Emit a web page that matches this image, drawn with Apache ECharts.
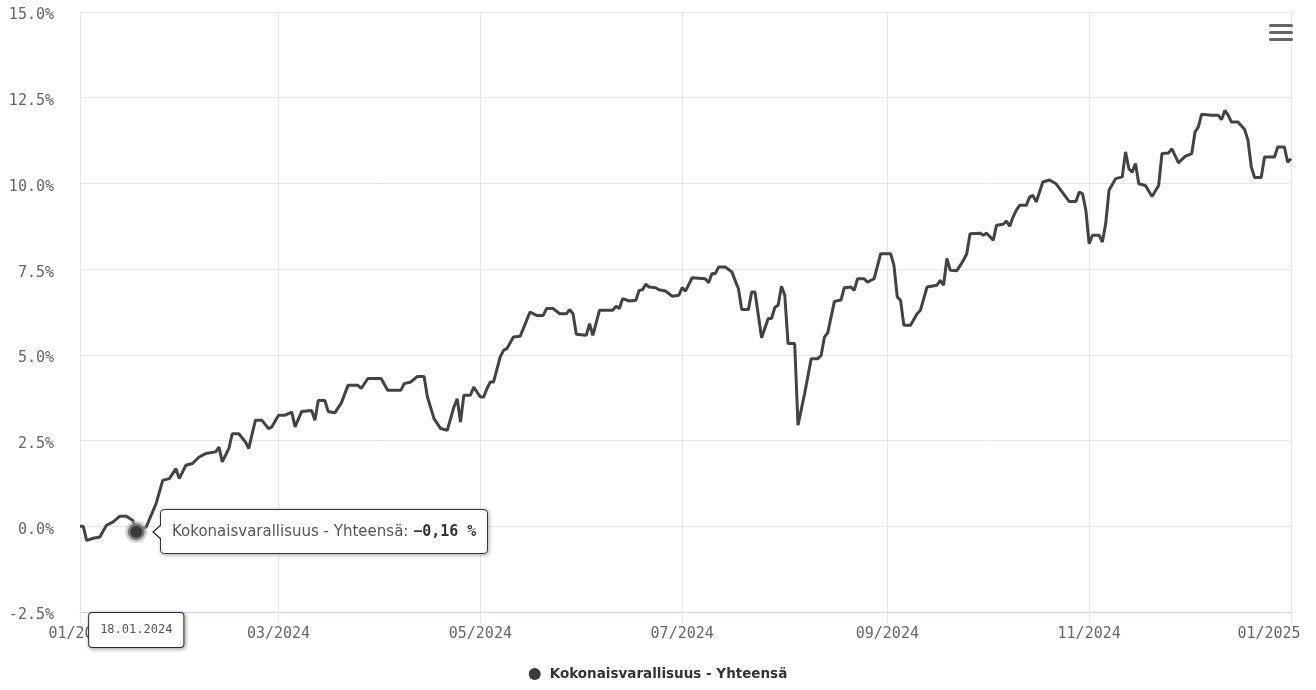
<!DOCTYPE html>
<html>
<head>
<meta charset="utf-8">
<script src="https://cdn.jsdelivr.net/npm/echarts@6/dist/echarts.min.js"></script>
<style>
html,body{margin:0;padding:0;background:#fff;overflow:hidden;}
#chart{width:1316px;height:690px;}
</style>
</head>
<body>
<div id="chart"></div>
<script>
const seriesName = 'Kokonaisvarallisuus - Yhteensä';
const yTicks = [-2.5, 0, 2.5, 5, 7.5, 10, 12.5, 15];
const tooltipDate = '2024-01-18';
const dates = [
 '2024-01-01','2024-01-02','2024-01-03','2024-01-05','2024-01-07','2024-01-09','2024-01-11','2024-01-13','2024-01-15','2024-01-17',
 '2024-01-18','2024-01-21','2024-01-24','2024-01-26','2024-01-28','2024-01-30','2024-01-31','2024-02-02','2024-02-04','2024-02-06',
 '2024-02-08','2024-02-11','2024-02-12','2024-02-13','2024-02-15','2024-02-16','2024-02-18','2024-02-20','2024-02-21','2024-02-23',
 '2024-02-25','2024-02-27','2024-02-28','2024-03-01','2024-03-03','2024-03-05','2024-03-06','2024-03-08','2024-03-11','2024-03-12',
 '2024-03-13','2024-03-15','2024-03-16','2024-03-18','2024-03-20','2024-03-22','2024-03-25','2024-03-26','2024-03-28','2024-04-01',
 '2024-04-03','2024-04-07','2024-04-08','2024-04-10','2024-04-12','2024-04-14','2024-04-15','2024-04-17','2024-04-19','2024-04-21',
 '2024-04-23','2024-04-24','2024-04-25','2024-04-26','2024-04-28','2024-04-29','2024-05-01','2024-05-02','2024-05-03','2024-05-04',
 '2024-05-05','2024-05-07','2024-05-08','2024-05-09','2024-05-11','2024-05-13','2024-05-14','2024-05-16','2024-05-18','2024-05-20',
 '2024-05-21','2024-05-23','2024-05-25','2024-05-27','2024-05-28','2024-05-29','2024-05-30','2024-06-02','2024-06-03','2024-06-04',
 '2024-06-06','2024-06-10','2024-06-11','2024-06-12','2024-06-13','2024-06-15','2024-06-17','2024-06-18','2024-06-19','2024-06-20',
 '2024-06-21','2024-06-23','2024-06-24','2024-06-26','2024-06-28','2024-06-30','2024-07-01','2024-07-02','2024-07-04','2024-07-08',
 '2024-07-09','2024-07-10','2024-07-11','2024-07-12','2024-07-14','2024-07-16','2024-07-18','2024-07-19','2024-07-21','2024-07-22',
 '2024-07-23','2024-07-25','2024-07-27','2024-07-28','2024-07-29','2024-07-30','2024-07-31','2024-08-01','2024-08-02','2024-08-04',
 '2024-08-05','2024-08-07','2024-08-09','2024-08-11','2024-08-12','2024-08-13','2024-08-14','2024-08-16','2024-08-18','2024-08-19',
 '2024-08-21','2024-08-22','2024-08-23','2024-08-25','2024-08-26','2024-08-28','2024-08-30','2024-09-02','2024-09-03','2024-09-04',
 '2024-09-05','2024-09-06','2024-09-08','2024-09-10','2024-09-11','2024-09-13','2024-09-16','2024-09-17','2024-09-18','2024-09-19',
 '2024-09-20','2024-09-22','2024-09-24','2024-09-25','2024-09-26','2024-09-29','2024-09-30','2024-10-01','2024-10-03','2024-10-04',
 '2024-10-06','2024-10-07','2024-10-08','2024-10-09','2024-10-10','2024-10-11','2024-10-13','2024-10-14','2024-10-15','2024-10-16',
 '2024-10-18','2024-10-20','2024-10-22','2024-10-26','2024-10-28','2024-10-29','2024-10-30','2024-10-31','2024-11-01','2024-11-02',
 '2024-11-04','2024-11-05','2024-11-06','2024-11-07','2024-11-09','2024-11-11','2024-11-12','2024-11-13','2024-11-14','2024-11-15',
 '2024-11-16','2024-11-18','2024-11-20','2024-11-22','2024-11-23','2024-11-25','2024-11-26','2024-11-28','2024-11-30','2024-12-02',
 '2024-12-03','2024-12-04','2024-12-05','2024-12-08','2024-12-10','2024-12-11','2024-12-12','2024-12-13','2024-12-14','2024-12-16',
 '2024-12-18','2024-12-19','2024-12-20','2024-12-21','2024-12-23','2024-12-24','2024-12-27','2024-12-28','2024-12-30','2024-12-31',
 '2025-01-01'
];
const values = [
 0.00,0.00,-0.41,-0.35,-0.31,0.03,0.13,0.29,0.29,0.17,
 -0.16,-0.02,0.66,1.34,1.39,1.68,1.39,1.78,1.83,2.02,
 2.12,2.17,2.31,1.88,2.27,2.70,2.70,2.46,2.27,3.09,
 3.09,2.85,2.90,3.24,3.24,3.33,2.90,3.35,3.38,3.09,
 3.67,3.67,3.35,3.31,3.60,4.11,4.11,4.02,4.31,4.31,
 3.97,3.97,4.16,4.21,4.37,4.37,3.77,3.14,2.85,2.80,
 3.48,3.72,3.04,3.82,3.82,4.06,3.77,3.77,4.02,4.21,
 4.21,4.94,5.13,5.18,5.52,5.54,5.77,6.25,6.15,6.15,
 6.35,6.35,6.20,6.20,6.32,6.20,5.60,5.57,5.91,5.57,
 6.30,6.30,6.42,6.35,6.64,6.57,6.59,6.88,6.90,7.06,
 6.98,6.96,6.90,6.86,6.71,6.74,6.96,6.86,7.25,7.22,
 7.10,7.37,7.37,7.56,7.56,7.42,6.93,6.32,6.32,6.83,
 6.83,5.50,6.06,6.06,6.38,6.45,7.00,6.74,5.33,5.33,
 2.95,3.87,4.89,4.89,4.99,5.52,5.65,6.56,6.60,6.96,
 6.98,6.88,7.22,7.22,7.12,7.22,7.95,7.95,7.61,6.69,
 6.59,5.86,5.86,6.20,6.30,6.98,7.03,7.17,7.03,7.81,
 7.47,7.45,7.76,7.95,8.53,8.55,8.49,8.55,8.34,8.78,
 8.81,8.90,8.75,9.02,9.22,9.36,9.36,9.60,9.65,9.46,
 10.04,10.10,9.99,9.47,9.47,9.75,9.70,9.22,8.24,8.49,
 8.49,8.29,8.83,9.80,10.14,10.19,10.92,10.43,10.33,10.58,
 9.99,9.94,9.62,9.94,10.87,10.89,11.01,10.60,10.79,10.87,
 11.50,11.65,12.02,11.99,11.99,11.86,12.13,11.99,11.79,11.79,
 11.57,11.26,10.48,10.17,10.17,10.77,10.77,11.06,11.06,10.62,
 10.72
];

const chart = echarts.init(document.getElementById('chart'), null, {renderer: 'canvas'});
const seriesData = dates.map((d, i) => [d, values[i]]);
const tipIndex = dates.indexOf(tooltipDate);
const xMin = echarts.time.parse('2024-01-01').getTime();
const xMax = echarts.time.parse('2025-01-01').getTime();

function fmtVal(v) {
  return v.toFixed(2).replace('.', ',').replace('-', '\u2212') + ' %';
}
function p2(n) { return (n < 10 ? '0' : '') + n; }
function fmtDate(ms) {
  const d = new Date(ms);
  return p2(d.getDate()) + '.' + p2(d.getMonth() + 1) + '.' + d.getFullYear();
}
function fmtMonth(ms) {
  const d = new Date(ms);
  return p2(d.getMonth() + 1) + '/' + d.getFullYear();
}

const arrowHtml =
  '<div style="position:absolute;left:-9px;top:50%;margin-top:-8px;width:0;height:0;' +
  'border-top:8px solid transparent;border-bottom:8px solid transparent;border-right:9px solid #333;"></div>' +
  '<div style="position:absolute;left:-7px;top:50%;margin-top:-7px;width:0;height:0;' +
  'border-top:7px solid transparent;border-bottom:7px solid transparent;border-right:8px solid #fff;"></div>';

const option = {
  animation: false,
  backgroundColor: '#ffffff',
  grid: {left: 80, right: 25, top: 12, bottom: 78, containLabel: false, outerBoundsMode: 'none'},
  toolbox: {
    right: 8, top: 9, itemSize: 24,
    iconStyle: {color: '#666666', borderColor: '#666666', borderWidth: 0},
    emphasis: {iconStyle: {color: '#333333', borderWidth: 0, textFill: 'transparent'}},
    feature: {
      myMenu: {
        show: true, title: ' ',
        icon: 'path://M1.5,0H22.5A1.5,1.5 0 0 1 22.5,3H1.5A1.5,1.5 0 0 1 1.5,0Z M1.5,7H22.5A1.5,1.5 0 0 1 22.5,10H1.5A1.5,1.5 0 0 1 1.5,7Z M1.5,14H22.5A1.5,1.5 0 0 1 22.5,17H1.5A1.5,1.5 0 0 1 1.5,14Z',
        onclick: function () {}
      }
    }
  },
  legend: {
    bottom: 4, left: 'center',
    icon: 'circle', itemWidth: 12, itemHeight: 12, itemGap: 10,
    textStyle: {fontFamily: 'DejaVu Sans', fontSize: 13.5, fontWeight: 'bold', color: '#333333', padding: [0, 0, 0, 4]},
    data: [seriesName]
  },
  tooltip: {
    trigger: 'item',
    position: function (point, params, dom, rect, size) {
      return [point[0] + 24, point[1] - size.contentSize[1] / 2];
    },
    backgroundColor: '#ffffff',
    borderColor: '#333333',
    borderWidth: 1,
    borderRadius: 4,
    padding: [10, 11],
    extraCssText: 'box-shadow: 1px 1px 4px rgba(0,0,0,0.35);',
    textStyle: {fontFamily: 'DejaVu Sans', fontSize: 15, color: '#555555'},
    formatter: function (p) {
      return arrowHtml + '<span style="font-family:DejaVu Sans;color:#555;font-size:15px">' + p.seriesName + ': </span>' +
        '<b style="font-family:\'DejaVu Sans Mono\';font-weight:bold;color:#333;font-size:15px">' + fmtVal(p.value[1]) + '</b>';
    }
  },
  xAxis: {
    type: 'time',
    min: xMin,
    max: xMax,
    splitNumber: 6,
    axisLine: {show: true, onZero: false, lineStyle: {color: '#ccd6eb', width: 1}},
    axisTick: {show: true, length: 11, lineStyle: {color: '#e6e6e6'}},
    splitLine: {show: true, lineStyle: {color: '#e6e6e6', width: 1}},
    minorTick: {show: false},
    axisLabel: {
      formatter: function (v) {
        const s = fmtMonth(v);
        return v >= xMax ? '{last|' + s + '}' : s;
      },
      fontFamily: 'DejaVu Sans Mono', fontSize: 15, color: '#666666', margin: 15,
      showMinLabel: true, showMaxLabel: true,
      hideOverlap: false,
      rich: {last: {fontFamily: 'DejaVu Sans Mono', fontSize: 15, color: '#666666', padding: [0, 44, 0, 0]}}
    },
    axisPointer: {
      show: true,
      status: 'show',
      value: echarts.time.parse(tooltipDate).getTime(),
      type: 'line',
      triggerTooltip: false,
      lineStyle: {opacity: 0},
      label: {
        show: true,
        formatter: function (p) { return fmtDate(p.value); },
        backgroundColor: '#ffffff',
        borderColor: '#333333',
        borderWidth: 1,
        borderRadius: 3,
        padding: [11, 11, 11, 11],
        margin: 1,
        color: '#555555',
        fontFamily: 'DejaVu Sans Mono',
        fontSize: 12,
        shadowBlur: 4,
        shadowColor: 'rgba(0,0,0,0.35)',
        shadowOffsetX: 1,
        shadowOffsetY: 1
      }
    }
  },
  yAxis: {
    type: 'value',
    min: yTicks[0], max: yTicks[yTicks.length - 1], interval: yTicks[1] - yTicks[0],
    axisLine: {show: false},
    axisTick: {show: false},
    splitLine: {show: true, lineStyle: {color: '#e6e6e6', width: 1}},
    axisLabel: {
      formatter: v => '{v|' + v.toFixed(1) + '%}',
      fontFamily: 'DejaVu Sans Mono', fontSize: 15, color: '#666666', margin: 26,
      rich: {v: {fontFamily: 'DejaVu Sans Mono', fontSize: 15, color: '#666666', padding: [7, 0, 0, 0]}}
    },
    axisPointer: {show: false}
  },
  series: [{
    name: seriesName,
    type: 'line',
    data: seriesData,
    showSymbol: false,
    symbol: 'circle',
    symbolSize: 17,
    itemStyle: {color: '#3a3a3a'},
    lineStyle: {color: '#3d3d3d', width: 3},
    emphasis: {
      scale: false,
      lineStyle: {width: 3},
      itemStyle: {color: '#3a3a3a', borderColor: 'rgba(175,175,175,0.55)', borderWidth: 5}
    }
  }]
};
chart.setOption(option);
chart.dispatchAction({type: 'highlight', seriesIndex: 0, dataIndex: tipIndex});
chart.dispatchAction({type: 'showTip', seriesIndex: 0, dataIndex: tipIndex});
</script>
</body>
</html>
